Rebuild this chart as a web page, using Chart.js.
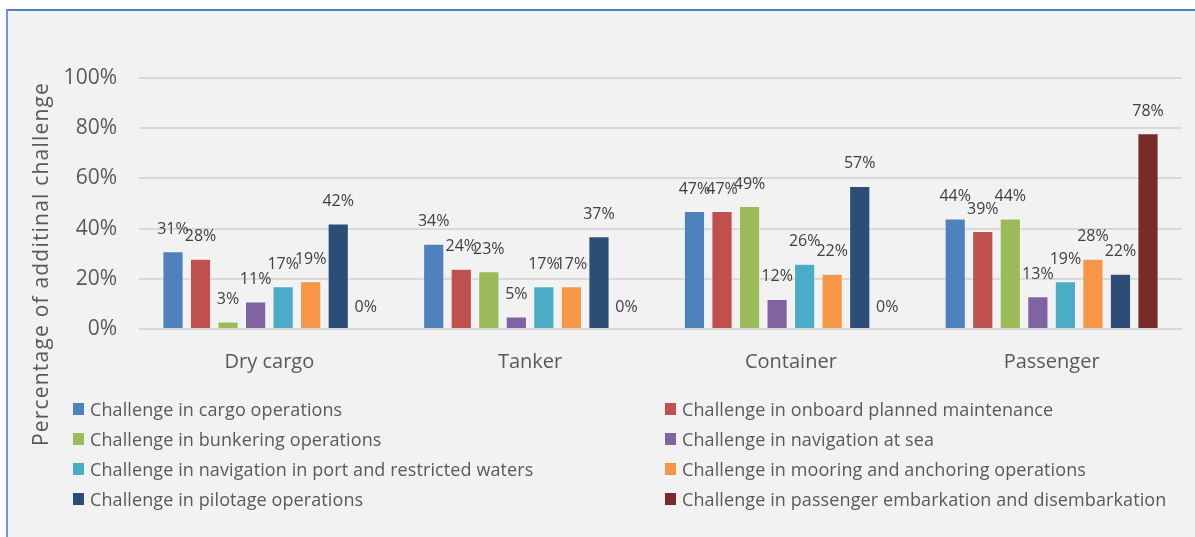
<!DOCTYPE html>
<html>
<head>
<meta charset="utf-8">
<script src="https://cdn.jsdelivr.net/npm/chart.js@4"></script>
<style>
  html, body { margin: 0; padding: 0; background: #fff; }
  body { width: 1195px; height: 537px; position: relative; overflow: hidden; font-family: "Open Sans", sans-serif; }
  #frame {
    position: absolute; left: 6px; top: 9px; right: -4px; bottom: -4px;
    background: #f2f2f2; border-left: 2px solid #6f9bd5; border-top: 2px solid #4f81bd;
  }
  #c { position: absolute; left: 0; top: 0; }
  #legend {
    position: absolute; left: 73px; top: 396px;
    display: grid; grid-template-columns: 592px 530px; grid-auto-rows: 30px;
    color: #595959; font-size: 18px; letter-spacing: 0.1px;
  }
  #legend .item { display: flex; align-items: center; height: 25px; white-space: nowrap; }
  #legend .box { width: 11px; height: 12px; margin-right: 6px; flex: none; }
</style>
</head>
<body>
<div id="frame"></div>
<canvas id="c" width="1195" height="537"></canvas>
<div id="legend"></div>
<script>
const categories = ['Dry cargo', 'Tanker', 'Container', 'Passenger'];
const seriesNames = [
  'Challenge in cargo operations',
  'Challenge in onboard planned maintenance',
  'Challenge in bunkering operations',
  'Challenge in navigation at sea',
  'Challenge in navigation in port and restricted waters',
  'Challenge in mooring and anchoring operations',
  'Challenge in pilotage operations',
  'Challenge in passenger embarkation and disembarkation'
];
const cargoOps = [31, 34, 47, 44];
const maintenance = [28, 24, 47, 39];
const bunkering = [3, 23, 49, 44];
const navSea = [11, 5, 12, 13];
const navPort = [17, 17, 26, 19];
const mooring = [19, 17, 22, 28];
const pilotage = [42, 37, 57, 22];
const embarkation = [0, 0, 0, 78];
const yTicks = [0, 20, 40, 60, 80, 100];
const colors = ['#4f81bd', '#c0504d', '#9bbb59', '#8064a2', '#4bacc6', '#f79646', '#2c4d75', '#772c2a'];

const seriesValues = [cargoOps, maintenance, bunkering, navSea, navPort, mooring, pilotage, embarkation];

const valueLabels = {
  id: 'valueLabels',
  afterDatasetsDraw(chart) {
    const ctx = chart.ctx;
    ctx.save();
    ctx.font = '16px "Open Sans"';
    ctx.fillStyle = '#404040';
    ctx.textAlign = 'center';
    ctx.textBaseline = 'middle';
    chart.data.datasets.forEach((ds, i) => {
      chart.getDatasetMeta(i).data.forEach((bar, j) => {
        ctx.fillText(ds.data[j] + '%', bar.x, bar.y - 22);
      });
    });
    ctx.restore();
  }
};

// axis title is centred on the whole chart in the original, so draw it here
const yTitle = {
  id: 'yTitle',
  afterDraw(chart) {
    const ctx = chart.ctx;
    ctx.save();
    ctx.translate(42, 264);
    ctx.rotate(-Math.PI / 2);
    ctx.font = '21px "Open Sans"';
    ctx.letterSpacing = '1.2px';
    ctx.fillStyle = '#595959';
    ctx.textAlign = 'center';
    ctx.textBaseline = 'middle';
    ctx.fillText('Percentage of additinal challenge', 0, 0);
    ctx.restore();
  }
};

const chart = new Chart(document.getElementById('c'), {
  type: 'bar',
  data: {
    labels: categories,
    datasets: seriesNames.map((name, i) => ({
      label: name,
      data: seriesValues[i],
      backgroundColor: colors[i],
      borderColor: 'rgba(255,255,255,0.35)',
      borderWidth: 1,
      categoryPercentage: 0.845,
      barPercentage: 0.77
    }))
  },
  options: {
    responsive: false,
    animation: false,
    layout: { padding: { top: 78, right: 13, left: 0, bottom: 0 } },
    plugins: {
      legend: { display: false },
      tooltip: { enabled: false }
    },
    scales: {
      x: {
        grid: { display: false },
        border: { display: false },
        ticks: { color: '#595959', font: { family: 'Open Sans', size: 20 }, padding: 13 },
        afterFit(s) { s.height = 537 - 329; }
      },
      y: {
        min: 0, max: 100,
        afterBuildTicks(s) { s.ticks = yTicks.map(v => ({ value: v })); },
        grid: { color: '#d9d9d9', lineWidth: 2, drawTicks: false },
        border: { display: false },
        ticks: { color: '#595959', font: { family: 'Open Sans', size: 21 }, padding: 22, callback: v => v + '%' },
        afterFit(s) { s.width = 139; }
      }
    }
  },
  plugins: [valueLabels, yTitle]
});

const legend = document.getElementById('legend');
chart.data.datasets.forEach(ds => {
  const item = document.createElement('div');
  item.className = 'item';
  const box = document.createElement('span');
  box.className = 'box';
  box.style.background = ds.backgroundColor;
  const txt = document.createElement('span');
  txt.textContent = ds.label;
  item.appendChild(box);
  item.appendChild(txt);
  legend.appendChild(item);
});
</script>
</body>
</html>
